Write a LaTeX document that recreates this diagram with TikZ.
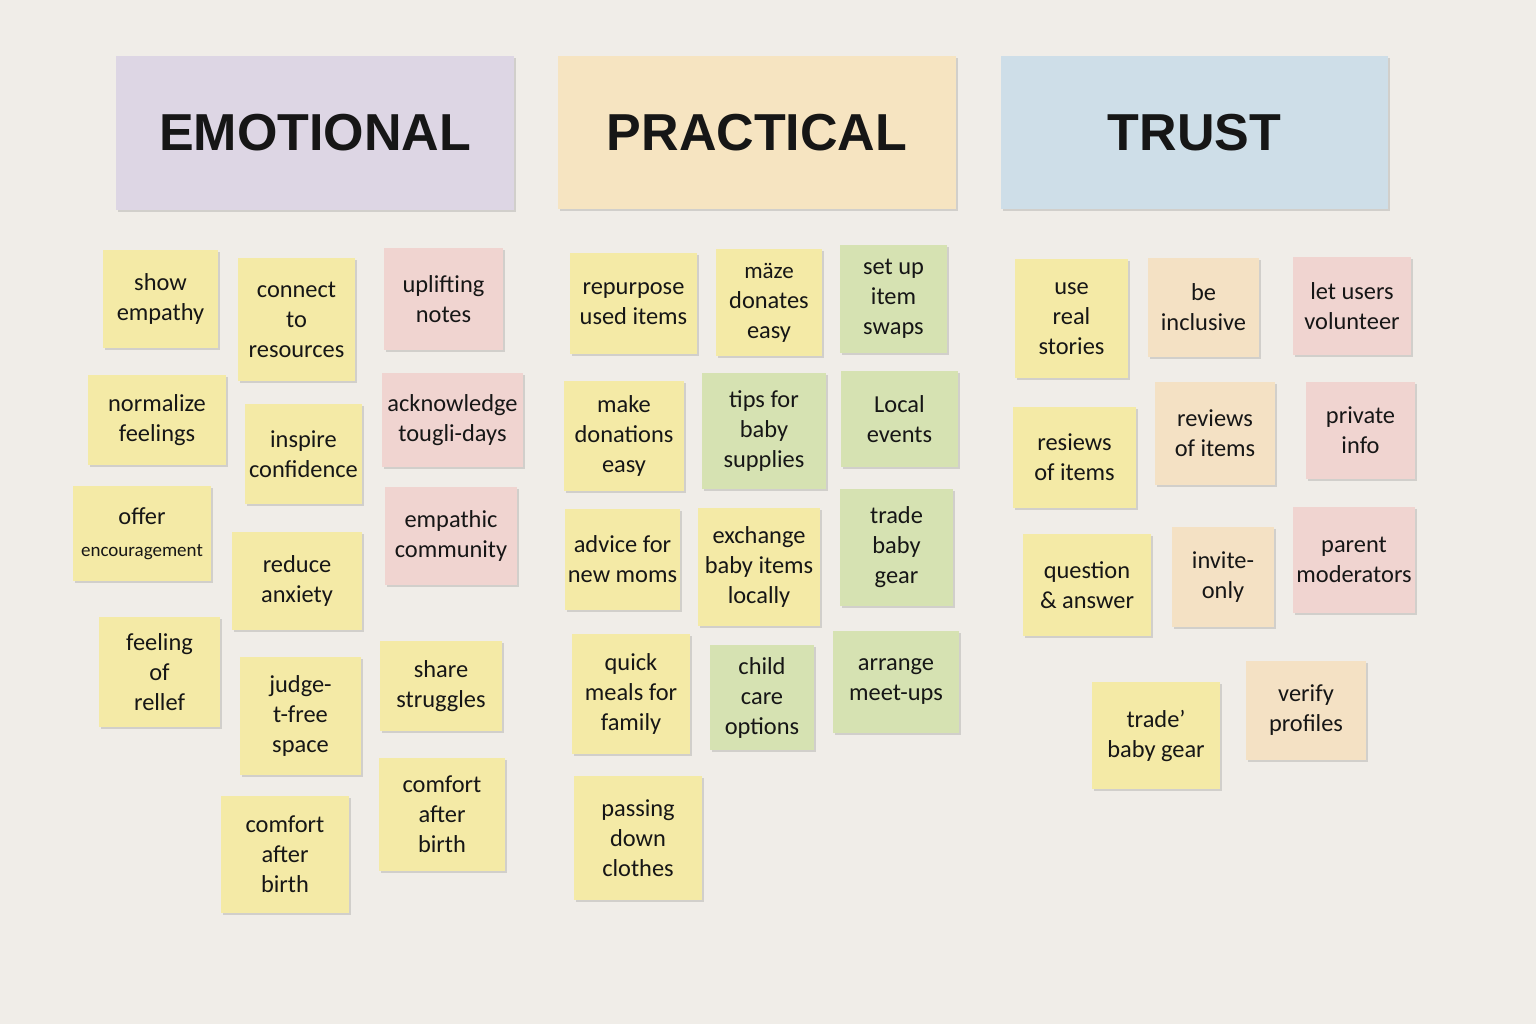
\documentclass[tikz,border=0pt]{standalone}
\usepackage{fontspec}
\setmainfont{Carlito}
\newfontfamily\headfont{Liberation Sans}
\usetikzlibrary{shadows}
\definecolor{bgc}{RGB}{240,237,232}
\definecolor{ylw}{RGB}{244,234,166}
\definecolor{pnk}{RGB}{240,212,208}
\definecolor{grn}{RGB}{214,226,178}
\definecolor{pch}{RGB}{244,225,196}
\definecolor{hpur}{RGB}{221,214,228}
\definecolor{horg}{RGB}{246,228,193}
\definecolor{hblu}{RGB}{206,222,232}
\definecolor{ink}{RGB}{22,22,22}
\tikzset{
  note/.style={rectangle, inner sep=0pt, align=center, text=ink,
    font=\fontsize{12.2}{15}\selectfont,
    drop shadow={shadow xshift=0.8pt, shadow yshift=-1.2pt, opacity=0.22, fill=black!60}},
  header/.style={note, font=\headfont\bfseries\fontsize{26}{30}\selectfont}
}
\newcommand\stick[7]{%
  \node[note, fill=#2, minimum width={(#5-#3)*0.5pt}, minimum height={(#6-#4)*0.5pt}]
    (#1) at ({(#3+#5)/2},{(#4+#6)/2}) {#7};}
\newcommand\headbox[7]{%
  \node[header, fill=#2, minimum width={(#5-#3)*0.5pt}, minimum height={(#6-#4)*0.5pt}]
    (#1) at ({(#3+#5)/2},{(#4+#6)/2}) {#7};}
\begin{document}
\begin{tikzpicture}[x=0.5pt,y=-0.5pt]
\fill[bgc] (0,0) rectangle (1536,1024);
\useasboundingbox (0,0) rectangle (1536,1024);
% headers
\headbox{hemo}{hpur}{116}{56}{514}{210}{EMOTIONAL}
\headbox{hpra}{horg}{558}{56}{956}{209}{PRACTICAL}
\headbox{htru}{hblu}{1001}{56}{1388}{209}{TRUST}
% emotional
\stick{e1}{ylw}{103}{250}{218}{348}{show\\empathy}
\stick{e2}{ylw}{238}{258}{355}{381}{connect\\to\\resources}
\stick{e3}{pnk}{384}{248}{503}{350}{uplifting\\notes}
\stick{e4}{ylw}{88}{375}{226}{465}{normalize\\feelings}
\stick{e5}{ylw}{245}{404}{362}{504}{inspire\\confidence}
\stick{e6}{pnk}{382}{373}{523}{467}{acknowledge\\tougli-days}
\stick{e7}{ylw}{73}{486}{211}{581}{offer\\[1pt]{\fontsize{9.5}{12}\selectfont encouragement}}
\stick{e8}{ylw}{232}{532}{362}{630}{reduce\\anxiety}
\stick{e9}{pnk}{385}{487}{517}{585}{empathic\\community}
\stick{e10}{ylw}{99}{617}{220}{727}{feeling\\of\\rellef}
\stick{e11}{ylw}{240}{657}{361}{775}{judge-\\t-free\\space}
\stick{e12}{ylw}{380}{641}{502}{731}{share\\struggles}
\stick{e13}{ylw}{379}{758}{505}{871}{comfort\\after\\birth}
\stick{e14}{ylw}{221}{796}{349}{913}{comfort\\after\\birth}
% practical
\stick{p1}{ylw}{570}{253}{697}{354}{repurpose\\used items}
\stick{p2}{ylw}{716}{249}{822}{356}{{\fontsize{11.5}{14}\selectfont m\"aze}\\donates\\easy}
\stick{p3}{grn}{840}{245}{947}{353}{set up\\item\\swaps}
\stick{p4}{ylw}{564}{381}{684}{491}{make\\donations\\easy}
\stick{p5}{grn}{702}{373}{826}{489}{tips for\\baby\\supplies}
\stick{p6}{grn}{841}{371}{958}{467}{Local\\events}
\stick{p7}{ylw}{565}{509}{680}{610}{advice for\\new moms}
\stick{p8}{ylw}{698}{508}{820}{626}{exchange\\baby items\\locally}
\stick{p9}{grn}{840}{489}{953}{606}{trade\\baby\\gear}
\stick{p10}{ylw}{572}{634}{690}{754}{quick\\meals for\\family}
\stick{p11}{grn}{710}{645}{814}{750}{child\\care\\options}
\stick{p12}{grn}{833}{631}{959}{733}{arrange\\meet-ups}
\stick{p13}{ylw}{574}{776}{702}{900}{passing\\down\\clothes}
% trust
\stick{t1}{ylw}{1015}{259}{1128}{378}{use\\real\\stories}
\stick{t2}{pch}{1148}{258}{1259}{357}{be\\inclusive}
\stick{t3}{pnk}{1293}{257}{1411}{355}{let users\\volunteer}
\stick{t4}{ylw}{1013}{407}{1136}{508}{resiews\\of items}
\stick{t5}{pch}{1155}{382}{1275}{485}{reviews\\of items}
\stick{t6}{pnk}{1306}{382}{1415}{479}{private\\info}
\stick{t7}{ylw}{1023}{534}{1151}{636}{question\\\& answer}
\stick{t8}{pch}{1172}{527}{1274}{627}{invite-\\only}
\stick{t9}{pnk}{1293}{507}{1415}{613}{parent\\moderators}
\stick{t10}{ylw}{1092}{682}{1220}{789}{trade'\\baby gear}
\stick{t11}{pch}{1246}{661}{1366}{760}{verify\\profiles}
\end{tikzpicture}
\end{document}
